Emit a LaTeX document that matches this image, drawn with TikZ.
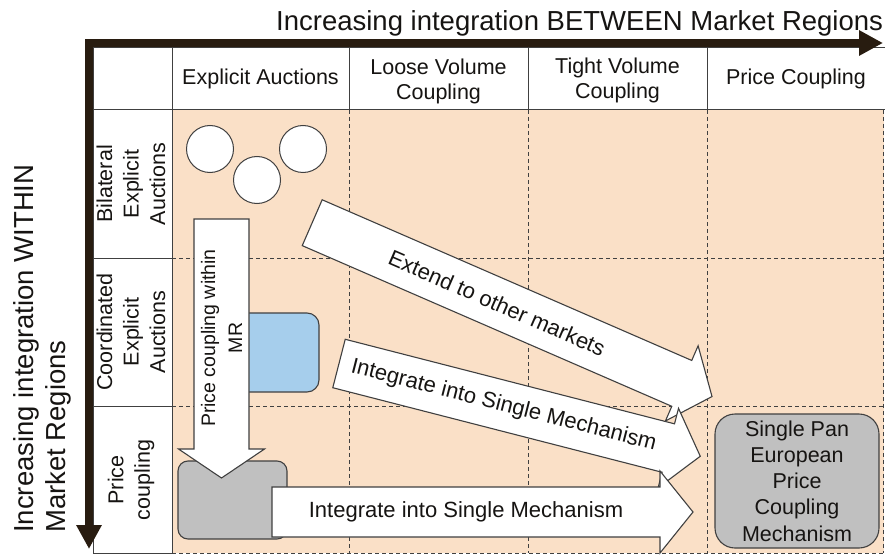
\documentclass[tikz,border=0pt]{standalone}
\usepackage{fontspec}
\setmainfont{Liberation Sans}
\usetikzlibrary{arrows.meta}
\definecolor{peach}{RGB}{250,224,199}
\definecolor{lblue}{RGB}{166,206,236}
\definecolor{boxgrey}{RGB}{192,192,192}
\definecolor{edgecol}{RGB}{64,64,64}
\definecolor{axiscol}{RGB}{40,28,16}
\definecolor{txt}{RGB}{22,20,18}
\tikzset{
  cell/.style={draw=edgecol, line width=1pt, fill=white},
  gridline/.style={draw=edgecol, line width=1pt, dash pattern=on 4pt off 3pt},
  barrow/.style={draw=edgecol, line width=1.1pt, fill=white, line join=miter},
  hdr/.style={font=\fontsize{21.5}{25}\selectfont, text=txt, align=center, inner sep=0pt},
  rowlbl/.style={font=\fontsize{21.5}{26.5}\selectfont, text=txt, align=center, inner sep=0pt, rotate=90},
  atext/.style={font=\fontsize{22}{26}\selectfont, text=txt, inner sep=0pt},
  axislbl/.style={font=\fontsize{27.5}{32}\selectfont, text=txt, inner sep=0pt},
  axisline/.style={draw=axiscol, line width=8pt, line join=miter,
     arrows={Triangle[length=24pt,width=24pt]-Triangle[length=24pt,width=24pt]}},
  circ/.style={circle, draw=edgecol, line width=1pt, fill=white, minimum size=47pt, inner sep=0pt},
  rbox/.style={rectangle, draw=edgecol, line width=1.1pt, inner sep=0pt},
}
\newcommand\blockarrow[6]{%
  \begin{scope}[shift={(#1,#2)}, rotate=#3]
    \draw[barrow] (0,-25) -- ({#4-33},-25) -- ({#4-33},-41) -- (#4,0) -- ({#4-33},41) -- ({#4-33},25) -- (0,25) -- cycle;
    \node[atext, rotate=#3] (#5) at ({(#4-33)/2},0) {#6};
  \end{scope}}
\begin{document}
\begin{tikzpicture}[x=1pt,y=-1pt]
\useasboundingbox (0,0) rectangle (885,556);
% body
\fill[peach] (172,110) rectangle (884,553);
\foreach \x in {349,528,707,883} \draw[gridline] (\x,110) -- (\x,553);
\foreach \y in {258,406,553} \draw[gridline] (172,\y) -- (883,\y);
% header row
\draw[cell] (93,48) rectangle (886,110);
\foreach \x in {172,349,528,707} \draw[edgecol, line width=1pt] (\x,48) -- (\x,110);
% left column
\draw[cell] (93,110) rectangle (172,553);
\foreach \y in {258,406} \draw[edgecol, line width=1pt] (93,\y) -- (172,\y);
% header texts
\node[hdr] (h1) at (260.5,79) {Explicit Auctions};
\node[hdr] (h2) at (438.5,81) {Loose Volume\\Coupling};
\node[hdr] (h3) at (617.5,80) {Tight Volume\\Coupling};
\node[hdr] (h4) at (796,79) {Price Coupling};
% row labels
\node[rowlbl] (r1) at (131,184) {Bilateral\\Explicit\\Auctions};
\node[rowlbl] (r2) at (131,332) {Coordinated\\Explicit\\Auctions};
\node[rowlbl] (r3) at (131,480) {Price\\coupling};
% axes
\coordinate (hx) at (883,43);
\coordinate (corner) at (89,43);
\coordinate (vy) at (89,549);
\draw[axisline] (hx) -- (corner) -- (vy);
\node[axislbl, anchor=base west] (title) at (276,31) {Increasing integration BETWEEN Market Regions};
\node[axislbl, rotate=90, anchor=north west, align=left] (ylab) at (13,533) {Increasing integration WITHIN\\Market Regions};
% circles
\node[circ] (c1) at (210,149) {};
\node[circ] (c2) at (257,180) {};
\node[circ] (c3) at (303,149) {};
% boxes
\node[rbox, fill=lblue, rounded corners=12pt, minimum width=89pt, minimum height=79pt] (bluebox) at (274.5,352.5) {};
\node[rbox, fill=boxgrey, rounded corners=10pt, minimum width=109pt, minimum height=78pt] (greybox) at (232.5,500) {};
% down arrow
\draw[barrow] (194,219) -- (249,219) -- (249,449) -- (264.5,449) -- (221.5,478) -- (178.5,449) -- (194,449) -- cycle;
\node[atext, rotate=90, align=center, font=\fontsize{19.5}{27}\selectfont] (pcw) at (221.5,338) {Price coupling within\\MR};
% block arrows
\blockarrow{312.2}{222.7}{-23.5}{436}{a1}{Extend to other markets}
\blockarrow{339}{363.5}{-14.4}{373}{a2}{Integrate into Single Mechanism}
\blockarrow{272}{512}{0}{421}{a3}{Integrate into Single Mechanism}
% target box
\node[rbox, fill=boxgrey, rounded corners=20pt, minimum width=164pt, minimum height=134pt, align=center, font=\fontsize{21.5}{26.3}\selectfont, text=txt] (spep) at (797,481) {Single Pan\\European\\Price\\Coupling\\Mechanism};
\end{tikzpicture}
\end{document}
